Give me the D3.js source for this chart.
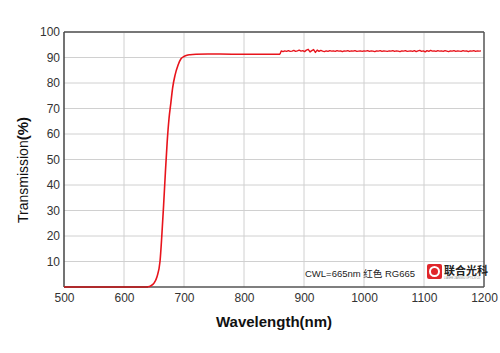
<!DOCTYPE html>
<html><head><meta charset="utf-8">
<script src="https://cdn.jsdelivr.net/npm/d3@7"></script>
<style>body{margin:0;background:#fff}svg{display:block}</style>
</head><body>
<script>
const xTicks = [500,600,700,800,900,1000,1100,1200];
const yTicks = [10,20,30,40,50,60,70,80,90,100];
const edgeWl = [500,600,630,640,645,650,655,660,663,666,669,672,675,678,681,685,690,695,700,705,710,720,740,780,820,858,860];
const edgeT  = [0,0,0,0.1,0.5,1.5,4,10,20,32,45,57,66,72,78,83,87,89.5,90.4,90.9,91.1,91.3,91.4,91.3,91.3,91.3,91.3];
const noiseWl = [860,862,865,868,871,874,877,880,883,886,889,892,895,898,901,904,907,910,913,916,919,922,925,928,931,934,937,940,943,946,949,952,955,958,961,964,967,970,973,976,979,982,985,988,991,994,997,1000,1003,1006,1009,1012,1015,1018,1021,1024,1027,1030,1033,1036,1039,1042,1045,1048,1051,1054,1057,1060,1063,1066,1069,1072,1075,1078,1081,1084,1087,1090,1093,1096,1099,1102,1105,1108,1111,1114,1117,1120,1123,1126,1129,1132,1135,1138,1141,1144,1147,1150,1153,1156,1159,1162,1165,1168,1171,1174,1177,1180,1183,1186,1189,1192,1195,1198,1200];
const noiseT  = [91.3,92.6,92.3,92.6,92.4,92.7,92.4,92.5,92.8,92.4,92.6,92.9,92.5,92.7,92.3,92.9,93.2,92.2,92.7,93.1,92.0,92.9,92.4,92.8,92.5,92.3,92.6,92.4,92.7,92.5,92.6,92.4,92.7,92.5,92.6,92.3,92.6,92.5,92.7,92.4,92.6,92.5,92.7,92.4,92.5,92.6,92.4,92.6,92.5,92.7,92.4,92.6,92.5,92.3,92.6,92.5,92.7,92.4,92.6,92.5,92.4,92.6,92.5,92.7,92.4,92.6,92.5,92.3,92.6,92.5,92.7,92.4,92.5,92.6,92.4,92.7,92.3,92.6,92.8,92.4,92.6,92.2,92.7,92.4,92.8,92.5,92.6,92.4,92.7,92.5,92.6,92.4,92.7,92.5,92.3,92.6,92.5,92.7,92.4,92.6,92.5,92.4,92.7,92.5,92.6,92.3,92.6,92.5,92.7,92.4,92.6,92.5,92.6];

const W=500,H=353, L=64, R=484, T=32, B=287;
const svg=d3.select("body").append("svg").attr("width",W).attr("height",H);
const x=d3.scaleLinear().domain([500,1200]).range([L,R]);
const y=d3.scaleLinear().domain([0,100]).range([B,T]);

svg.append("g").selectAll("line").data(xTicks.slice(1,-1)).join("line")
  .attr("x1",d=>x(d)).attr("x2",d=>x(d)).attr("y1",T).attr("y2",B)
  .attr("stroke","#d0d0d0").attr("stroke-width",1);
svg.append("g").selectAll("line").data(yTicks.slice(0,-1)).join("line")
  .attr("x1",L).attr("x2",R).attr("y1",d=>y(d)).attr("y2",d=>y(d))
  .attr("stroke","#d0d0d0").attr("stroke-width",1);

svg.append("line").attr("x1",L).attr("x2",R).attr("y1",T).attr("y2",T).attr("stroke","#777").attr("stroke-width",2);
svg.append("line").attr("x1",R).attr("x2",R).attr("y1",T).attr("y2",B).attr("stroke","#555").attr("stroke-width",1.5);
svg.append("line").attr("x1",L).attr("x2",L).attr("y1",T).attr("y2",B).attr("stroke","#444").attr("stroke-width",1.5);
svg.append("line").attr("x1",L).attr("x2",R).attr("y1",B).attr("y2",B).attr("stroke","#555").attr("stroke-width",1.5);

const xAxis=d3.axisBottom(x).tickValues(xTicks).tickFormat(d3.format("d")).tickSize(0).tickPadding(6);
const gx=svg.append("g").attr("transform",`translate(0,${B})`).call(xAxis);
gx.select(".domain").remove();
gx.selectAll("text").attr("font-family","Arial, Liberation Sans, sans-serif").attr("font-size",12).attr("fill","#333");
const yAxis=d3.axisLeft(y).tickValues(yTicks).tickFormat(d3.format("d")).tickSize(0).tickPadding(4);
const gy=svg.append("g").attr("transform",`translate(${L},0)`).call(yAxis);
gy.select(".domain").remove();
gy.selectAll("text").attr("font-family","Arial, Liberation Sans, sans-serif").attr("font-size",12).attr("fill","#333");

const edgePts=edgeWl.map((w,i)=>[w,edgeT[i]]);
const noisePts=noiseWl.map((w,i)=>[w,noiseT[i]]);
svg.append("path").datum(edgePts)
  .attr("fill","none").attr("stroke","#e8141c").attr("stroke-width",1.6).attr("stroke-linejoin","round")
  .attr("d",d3.line().x(d=>x(d[0])).y(d=>y(d[1])).curve(d3.curveMonotoneX));
svg.append("path").datum(noisePts)
  .attr("fill","none").attr("stroke","#e8141c").attr("stroke-width",1.4).attr("stroke-linejoin","round")
  .attr("d",d3.line().x(d=>x(d[0])).y(d=>y(d[1])));
svg.append("line").attr("x1",L).attr("x2",x(640)).attr("y1",B).attr("y2",B).attr("stroke","#a52a2a").attr("stroke-width",1.5);

svg.append("text").attr("x",274).attr("y",327).attr("text-anchor","middle")
  .attr("font-family","Arial, Liberation Sans, sans-serif").attr("font-size",15).attr("font-weight","bold").attr("fill","#111")
  .text("Wavelength(nm)");
const yt=svg.append("text").attr("transform",`translate(28,170) rotate(-90)`).attr("text-anchor","middle")
  .attr("font-family","Arial, Liberation Sans, sans-serif").attr("font-size",14).attr("fill","#111");
yt.append("tspan").text("Transmission");
yt.append("tspan").attr("font-weight","bold").attr("font-size",15).text("(%)");

svg.append("text").attr("x",305).attr("y",277)
  .attr("font-family","Arial, 'Noto Sans CJK SC', sans-serif").attr("font-size",9.5).attr("fill","#222")
  .text("CWL=665nm 红色 RG665");
const lg=svg.append("g").attr("transform","translate(427,264)");
lg.append("rect").attr("width",15).attr("height",15).attr("rx",2).attr("fill","#e0262b");
lg.append("circle").attr("cx",7.5).attr("cy",7.5).attr("r",4.5).attr("fill","none").attr("stroke","#fff").attr("stroke-width",2);
lg.append("text").attr("x",17).attr("y",10.5).attr("font-family","'Noto Sans CJK SC', sans-serif").attr("font-weight","bold").attr("font-size",11).attr("fill","#222").text("联合光科");
lg.append("text").attr("x",17).attr("y",15).attr("font-family","Arial, sans-serif").attr("font-size",2.6).attr("fill","#888").text("LIANHE JIANGSU OPTICS CO");
</script>
</body></html>
